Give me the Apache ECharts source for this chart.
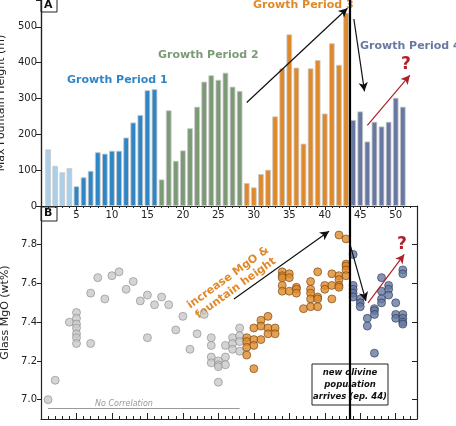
<!DOCTYPE html>
<html>
<head>
<meta charset="UTF-8">
<script src="https://cdn.jsdelivr.net/npm/echarts@6/dist/echarts.min.js"></script>
<style>body{margin:0}#chart{width:456px;height:426px}</style>
</head>
<body>
<div id="chart"></div>
<script>
// fountain heights per episode 1..51
var episodes = [];
for (var i = 1; i <= 51; i++) episodes.push(i);
var heights = [158,112,94,106,55,80,98,150,146,154,154,191,233,254,323,326,
  74,267,126,155,217,277,347,365,352,372,333,321,
  64,52,89,101,250,384,479,386,174,384,407,258,454,394,539,
  240,264,180,235,222,235,302,277];
// last episode of each growth period and colours
var periodEnds = [4,16,28,43,51];
var periodColors = ['#a9d0ea','#2f86c6','#7c9a76','#e0892b','#6779a3'];

// glass MgO: [episode, wt%]
var mgoGray = [[1,7.00],[2,7.10],[4,7.40],[5,7.45],[5,7.42],[5,7.39],[5,7.37],[5,7.34],[5,7.32],[5,7.29],
  [7,7.55],[7,7.29],[8,7.63],[9,7.52],[10,7.64],[11,7.66],[12,7.57],[13,7.61],[14,7.51],[15,7.54],[15,7.32],
  [16,7.49],[17,7.53],[18,7.49],[19,7.36],[20,7.43],[21,7.26],[22,7.34],[23,7.44],
  [24,7.32],[24,7.28],[24,7.22],[24,7.19],[25,7.20],[25,7.18],[25,7.17],[25,7.09],
  [26,7.28],[26,7.22],[26,7.18],[27,7.32],[27,7.29],[27,7.26],[28,7.37],[28,7.33],[28,7.30],[28,7.25]];
var mgoOrange = [[29,7.32],[29,7.30],[29,7.27],[29,7.23],[30,7.37],[30,7.31],[30,7.28],[30,7.16],
  [31,7.41],[31,7.38],[31,7.31],[32,7.43],[32,7.37],[32,7.34],[33,7.37],[33,7.34],
  [34,7.66],[34,7.64],[34,7.63],[34,7.59],[34,7.56],[35,7.65],[35,7.63],[35,7.56],
  [36,7.58],[36,7.57],[36,7.55],[37,7.47],[38,7.61],[38,7.57],[38,7.55],[38,7.52],[38,7.48],
  [39,7.66],[39,7.53],[39,7.52],[39,7.48],[40,7.59],[40,7.57],[41,7.65],[41,7.59],[41,7.52],
  [42,7.85],[42,7.64],[42,7.62],[42,7.59],[42,7.58],[43,7.83],[43,7.70],[43,7.69],[43,7.67],[43,7.64]];
var mgoBlue = [[44,7.75],[44,7.59],[44,7.57],[44,7.55],[44,7.53],[45,7.52],[45,7.50],[45,7.48],
  [46,7.42],[46,7.38],[47,7.47],[47,7.46],[47,7.44],[47,7.24],[48,7.63],[48,7.56],[48,7.52],[48,7.50],
  [49,7.59],[49,7.57],[49,7.54],[50,7.50],[50,7.44],[50,7.42],
  [51,7.67],[51,7.65],[51,7.44],[51,7.42],[51,7.40],[51,7.39]];
var mgoTicks = [7.0,7.2,7.4,7.6,7.8];

function periodColor(ep) {
  for (var k = 0; k < periodEnds.length; k++) if (ep <= periodEnds[k]) return periodColors[k];
  return periodColors[periodColors.length-1];
}
var barData = episodes.map(function(ep, i){
  return {value:[ep, heights[i]], itemStyle:{color:periodColor(ep)}};
});

function arrow(a, b, color, width) {
  return [{coord:a, symbol:'none'}, {coord:b, symbol:'arrow', lineStyle:{color:color, width:width||1.2}}];
}

var font = 'DejaVu Sans';
var axisLine = {show:true, lineStyle:{color:'#222', width:1.2}};
var option = {
  animation:false,
  textStyle:{fontFamily:font},
  grid:[
    {left:41, right:39, top:0, height:206, outerBoundsMode:'none', containLabel:false},
    {left:41, right:39, top:206, bottom:7, outerBoundsMode:'none', containLabel:false}
  ],
  xAxis:[
    {gridIndex:0, type:'value', min:0, max:53, interval:5, axisLine:axisLine,
      axisTick:{inside:false, length:4, lineStyle:{color:'#222'}},
      minorTick:{show:true, splitNumber:5, length:2, lineStyle:{color:'#222'}},
      axisLabel:{fontSize:10, color:'#222', margin:4, showMinLabel:false, showMaxLabel:false},
      splitLine:{show:false}},
    {gridIndex:1, type:'value', min:0, max:53, interval:5, axisLine:axisLine,
      axisTick:{inside:true, length:6, lineStyle:{color:'#222'}},
      minorTick:{show:true, splitNumber:5, length:3, lineStyle:{color:'#222'}},
      axisLabel:{show:false}, splitLine:{show:false}},
    {gridIndex:0, type:'value', min:0, max:53, position:'top', axisLine:axisLine,
      axisTick:{show:false}, axisLabel:{show:false}, splitLine:{show:false}}
  ],
  yAxis:[
    {gridIndex:0, type:'value', min:0, max:575, interval:100, axisLine:axisLine,
      axisTick:{length:4, lineStyle:{color:'#222'}}, splitLine:{show:false},
      axisLabel:{fontSize:10, color:'#222', margin:4, showMaxLabel:false},
      name:'Max Fountain Height (m)', nameLocation:'middle', nameGap:28,
      nameTextStyle:{fontSize:11, color:'#222'}},
    {gridIndex:1, type:'value', min:6.9, max:8.0, axisLine:axisLine,
      axisTick:{length:4, customValues:mgoTicks, lineStyle:{color:'#222'}}, splitLine:{show:false},
      axisLabel:{fontSize:10, color:'#222', margin:4, customValues:mgoTicks,
        formatter:function(v){return v.toFixed(1);}},
      name:'Glass MgO (wt%)', nameLocation:'middle', nameGap:28,
      nameTextStyle:{fontSize:11, color:'#222'}},
    {gridIndex:0, type:'value', min:0, max:575, interval:100, position:'right', axisLine:axisLine,
      axisTick:{inside:true, length:5, lineStyle:{color:'#222'}}, axisLabel:{show:false}, splitLine:{show:false}},
    {gridIndex:1, type:'value', min:6.9, max:8.0, position:'right', axisLine:axisLine,
      axisTick:{inside:true, length:5, customValues:mgoTicks, lineStyle:{color:'#222'}},
      axisLabel:{show:false}, splitLine:{show:false}}
  ],
  series:[
    {type:'bar', xAxisIndex:0, yAxisIndex:0, data:barData, barWidth:5.6,
      itemStyle:{borderColor:'#c8c8c8', borderWidth:0.8},
      markLine:{silent:true, symbolSize:[7,9], label:{show:false},
        lineStyle:{type:'solid', color:'#111', width:1.2},
        data:[
          [{coord:[43.5,0], symbol:'none', lineStyle:{width:2.2, color:'#000'}}, {coord:[43.5,575], symbol:'none'}],
          arrow([29,289],[43.2,552],'#111'),
          arrow([44.1,522],[45.6,320],'#111'),
          arrow([46,225],[52,365],'#b0202a')
        ]}},
    {type:'scatter', xAxisIndex:1, yAxisIndex:1, data:mgoGray, symbolSize:8,
      itemStyle:{color:'#c9c9c9', borderColor:'#8a8a8a', borderWidth:0.8},
      markLine:{silent:true, symbolSize:[7,9], label:{show:false},
        lineStyle:{type:'solid', color:'#111', width:1.2},
        data:[
          [{coord:[43.5,6.9], symbol:'none', lineStyle:{width:2.2, color:'#000'}}, {coord:[43.5,8.0], symbol:'none'}],
          arrow([27.2,7.52],[40.6,7.87],'#111'),
          arrow([43.5,7.81],[45.8,7.51],'#111'),
          arrow([46.1,7.50],[51.2,7.75],'#b0202a'),
          [{coord:[1,6.955], symbol:'none', lineStyle:{color:'#999', width:1}}, {coord:[28,6.955], symbol:'none'}]
        ]}},
    {type:'scatter', xAxisIndex:1, yAxisIndex:1, data:mgoOrange, symbolSize:8,
      itemStyle:{color:'#e0892b', borderColor:'#6e4412', borderWidth:0.8}},
    {type:'scatter', xAxisIndex:1, yAxisIndex:1, data:mgoBlue, symbolSize:8,
      itemStyle:{color:'#6779a3', borderColor:'#2c3654', borderWidth:0.8}}
  ],
  graphic:[
    {type:'rect', shape:{x:41,y:-1,width:16,height:13}, style:{fill:'#fff', stroke:'#222', lineWidth:1}},
    {type:'text', x:44, y:0, style:{text:'A', font:'bold 11px DejaVu Sans', fill:'#111'}},
    {type:'rect', shape:{x:41,y:207,width:16,height:14}, style:{fill:'#fff', stroke:'#222', lineWidth:1}},
    {type:'text', x:44, y:208, style:{text:'B', font:'bold 11px DejaVu Sans', fill:'#111'}},
    {type:'text', x:67, y:75, style:{text:'Growth Period 1', font:'bold 11px DejaVu Sans', fill:'#2f86c6'}},
    {type:'text', x:158, y:50, style:{text:'Growth Period 2', font:'bold 11px DejaVu Sans', fill:'#7c9a76'}},
    {type:'text', x:253, y:0, style:{text:'Growth Period 3', font:'bold 11px DejaVu Sans', fill:'#e0892b'}},
    {type:'text', x:360, y:41, style:{text:'Growth Period 4?', font:'bold 11px DejaVu Sans', fill:'#6779a3'}},
    {type:'text', x:401, y:56, style:{text:'?', font:'bold 17px DejaVu Sans', fill:'#b0202a'}},
    {type:'text', x:397, y:236, style:{text:'?', font:'bold 17px DejaVu Sans', fill:'#b0202a'}},
    {type:'text', x:232, y:283, rotation:Math.PI*0.2, originX:0, originY:0,
      style:{text:'increase MgO &\nfountain height', font:'bold 11px DejaVu Sans', fill:'#e0892b',
        align:'center', verticalAlign:'middle', lineHeight:13}},
    {type:'text', x:95, y:400, style:{text:'No Correlation', font:'italic 8px DejaVu Sans', fill:'#999'}},
    {type:'rect', shape:{x:312,y:364,width:76,height:41}, style:{fill:'#fff', stroke:'#222', lineWidth:1}},
    {type:'text', x:350, y:385, style:{text:'new olivine\npopulation\narrives (ep. 44)',
      font:'bold italic 8.5px DejaVu Sans', fill:'#111', align:'center', verticalAlign:'middle', lineHeight:12}}
  ]
};
echarts.init(document.getElementById('chart')).setOption(option);
</script>
</body>
</html>
